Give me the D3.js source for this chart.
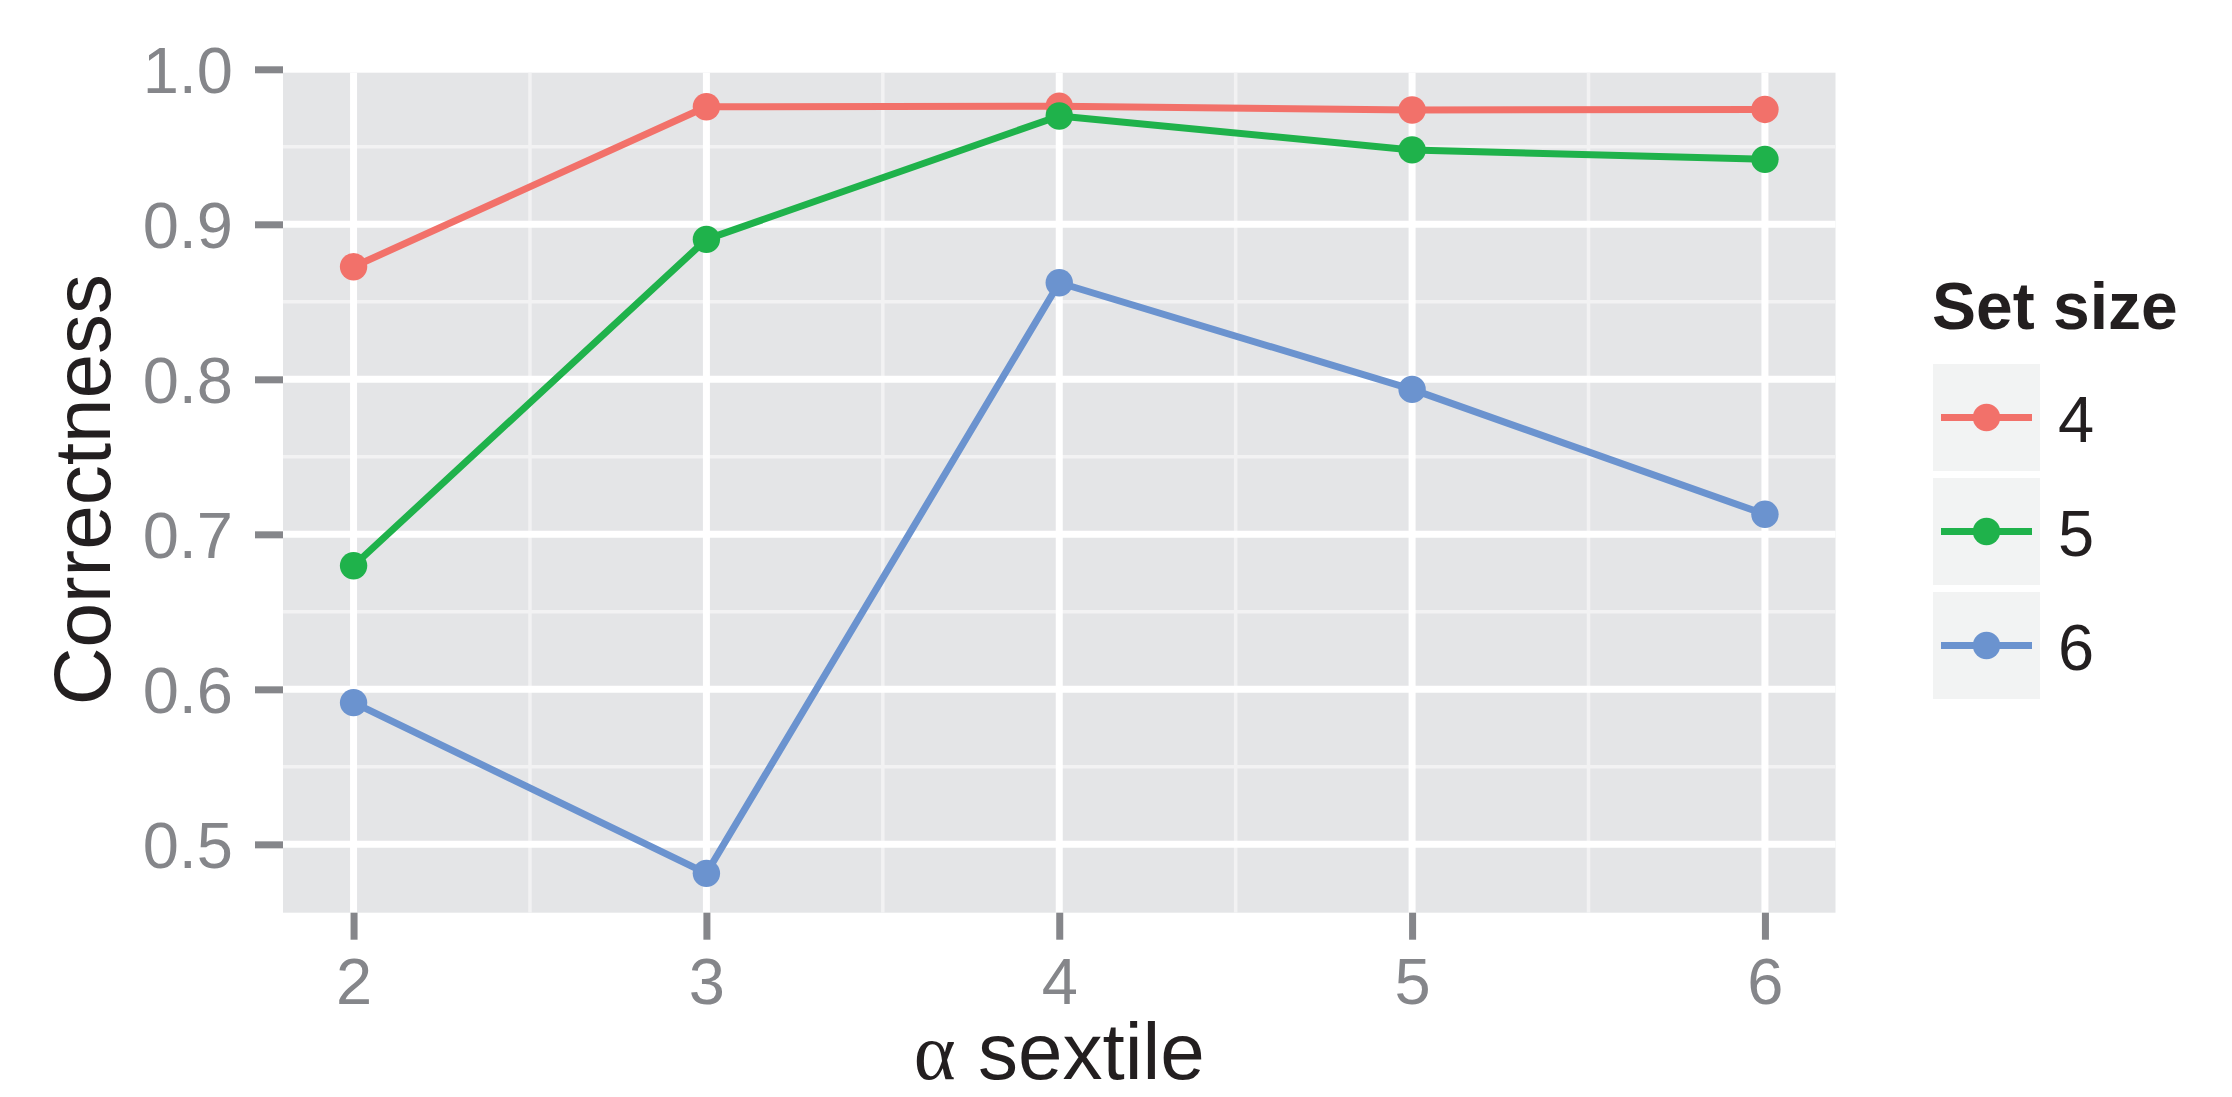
<!DOCTYPE html>
<html>
<head>
<meta charset="utf-8">
<script src="https://cdn.jsdelivr.net/npm/d3@7"></script>
<style>
  html, body { margin: 0; padding: 0; background: #fff; }
  svg { display: block; }
  text { font-family: "Liberation Sans", Arial, Helvetica, sans-serif; }
</style>
</head>
<body>
<svg id="chart" width="2232" height="1097"></svg>
<script>
// ---- data ----
const xValues = [2, 3, 4, 5, 6];
const setSizes = ["4", "5", "6"];
const series4 = [0.8726, 0.9758, 0.9762, 0.9737, 0.9741];
const series5 = [0.6797, 0.8903, 0.9699, 0.9480, 0.9419];
const series6 = [0.5914, 0.4813, 0.8623, 0.7935, 0.7129];
const yTicks = [0.5, 0.6, 0.7, 0.8, 0.9, 1.0];
const yMinorTicks = [0.55, 0.65, 0.75, 0.85, 0.95];
const xTicks = [2, 3, 4, 5, 6];
const xMinorTicks = [2.5, 3.5, 4.5, 5.5];
const seriesColors = ["#f2716a", "#1fb24b", "#6b93cf"];

const allSeries = [series4, series5, series6].map((vals, i) => ({
  name: setSizes[i],
  color: seriesColors[i],
  points: vals.map((v, j) => ({ x: xValues[j], y: v }))
}));

// ---- layout ----
const panel = { left: 283, right: 1835.5, top: 72.7, bottom: 912.7 };
const x = d3.scaleLinear().domain([1.8, 6.2]).range([panel.left, panel.right]);
const y = d3.scaleLinear().domain([0.4559, 0.9978]).range([panel.bottom, panel.top]);

const svg = d3.select("#chart");
const greyText = "#85868a";
const darkText = "#231f20";

// panel background
svg.append("rect")
  .attr("x", panel.left).attr("y", panel.top)
  .attr("width", panel.right - panel.left).attr("height", panel.bottom - panel.top)
  .attr("fill", "#e4e5e7");

const grid = svg.append("g");
// minor grid
grid.selectAll(".ymin").data(yMinorTicks).enter().append("line")
  .attr("x1", panel.left).attr("x2", panel.right)
  .attr("y1", d => y(d)).attr("y2", d => y(d))
  .attr("stroke", "#f2f2f3").attr("stroke-width", 3.5);
grid.selectAll(".xmin").data(xMinorTicks).enter().append("line")
  .attr("y1", panel.top).attr("y2", panel.bottom)
  .attr("x1", d => x(d)).attr("x2", d => x(d))
  .attr("stroke", "#f2f2f3").attr("stroke-width", 3.5);
// major grid
grid.selectAll(".ymaj").data(yTicks.filter(t => y(t) >= panel.top)).enter().append("line")
  .attr("x1", panel.left).attr("x2", panel.right)
  .attr("y1", d => y(d)).attr("y2", d => y(d))
  .attr("stroke", "#ffffff").attr("stroke-width", 7);
grid.selectAll(".xmaj").data(xTicks).enter().append("line")
  .attr("y1", panel.top).attr("y2", panel.bottom)
  .attr("x1", d => x(d)).attr("x2", d => x(d))
  .attr("stroke", "#ffffff").attr("stroke-width", 7);

// axes
const yAxis = d3.axisLeft(y).tickValues(yTicks).tickFormat(d3.format(".1f"))
  .tickSize(28).tickPadding(22);
const yG = svg.append("g").attr("transform", `translate(${panel.left},0)`).call(yAxis);
yG.select(".domain").remove();
yG.selectAll(".tick line").attr("stroke", greyText).attr("stroke-width", 7);
yG.selectAll(".tick text").attr("fill", greyText).attr("font-size", 65)
  .attr("font-family", "Liberation Sans, Arial, sans-serif").attr("dy", "0.36em");

const xAxis = d3.axisBottom(x).tickValues(xTicks).tickFormat(d3.format("d"))
  .tickSize(27).tickPadding(18);
const xG = svg.append("g").attr("transform", `translate(0,${panel.bottom})`).call(xAxis);
xG.select(".domain").remove();
xG.selectAll(".tick line").attr("stroke", greyText).attr("stroke-width", 7);
xG.selectAll(".tick text").attr("fill", greyText).attr("font-size", 65)
  .attr("font-family", "Liberation Sans, Arial, sans-serif");

// lines and points
const line = d3.line().x(d => x(d.x)).y(d => y(d.y));
const plot = svg.append("g");
allSeries.forEach(s => {
  plot.append("path").datum(s.points)
    .attr("d", line).attr("fill", "none")
    .attr("stroke", s.color).attr("stroke-width", 7).attr("stroke-linejoin", "round");
});
allSeries.forEach(s => {
  plot.selectAll(null).data(s.points).enter().append("circle")
    .attr("cx", d => x(d.x)).attr("cy", d => y(d.y)).attr("r", 13.7)
    .attr("fill", s.color);
});

// axis titles
const xt = svg.append("text")
  .attr("x", (panel.left + panel.right) / 2).attr("y", 1079)
  .attr("text-anchor", "middle").attr("font-size", 80).attr("fill", darkText);
xt.append("tspan").attr("font-family", "Liberation Serif, DejaVu Serif, serif").text("α");
xt.append("tspan").text(" sextile");

svg.append("text")
  .attr("transform", `translate(110,${(panel.top + panel.bottom) / 2 - 3}) rotate(-90)`)
  .attr("text-anchor", "middle").attr("font-size", 80).attr("fill", darkText)
  .text("Correctness");

// legend
const legend = svg.append("g");
legend.append("text").attr("x", 1932).attr("y", 329)
  .attr("font-size", 66).attr("font-weight", "bold").attr("fill", darkText)
  .text("Set size");
const keyX = 1933, keyY0 = 364, keySize = 107, keyStep = 114;
allSeries.forEach((s, i) => {
  const ky = keyY0 + i * keyStep;
  const g = legend.append("g");
  g.append("rect").attr("x", keyX).attr("y", ky).attr("width", keySize).attr("height", keySize)
    .attr("fill", "#f2f3f3");
  g.append("line").attr("x1", keyX + 8).attr("x2", keyX + keySize - 8)
    .attr("y1", ky + keySize / 2).attr("y2", ky + keySize / 2)
    .attr("stroke", s.color).attr("stroke-width", 7);
  g.append("circle").attr("cx", keyX + keySize / 2).attr("cy", ky + keySize / 2).attr("r", 13.7)
    .attr("fill", s.color);
  g.append("text").attr("x", 2058).attr("y", ky + keySize / 2 + 24.4)
    .attr("font-size", 65).attr("fill", darkText).text(s.name);
});
</script>
</body>
</html>
